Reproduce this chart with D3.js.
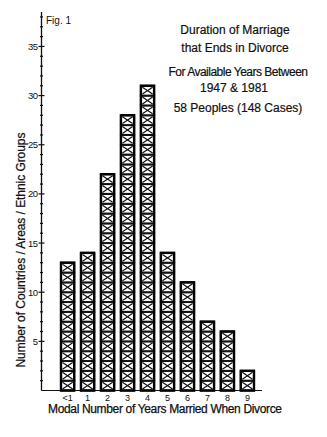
<!DOCTYPE html>
<html>
<head>
<meta charset="utf-8">
<script src="https://cdn.jsdelivr.net/npm/d3@7"></script>
<style>
  body { margin: 0; background: #fff; }
  text { font-family: "Liberation Sans", Arial, sans-serif; fill: #111; }
</style>
</head>
<body>
<div id="chart"></div>
<script>
// Data
const categories = ["<1", "1", "2", "3", "4", "5", "6", "7", "8", "9"];
const counts = [13, 14, 22, 28, 31, 14, 11, 7, 6, 2];
const yTicks = [5, 10, 15, 20, 25, 30, 35];
const titleLines = ["Duration of  Marriage", "that Ends in Divorce"];
const subLines = ["For Available Years Between", "1947 & 1981", "58 Peoples  (148 Cases)"];

const width = 327, height = 437;
const svg = d3.select("#chart").append("svg")
    .attr("width", width)
    .attr("height", height);

const axisX = 41.5, baseY = 390.5;

const x = d3.scaleBand()
    .domain(categories)
    .range([59, 256])
    .paddingInner(0.34)
    .paddingOuter(0.1);

const y = d3.scaleLinear()
    .domain([0, 38.5])
    .range([baseY, baseY - 38.5 * 9.83]);

// Axes lines
svg.append("line")
    .attr("x1", axisX).attr("x2", axisX)
    .attr("y1", y(38.5)).attr("y2", baseY)
    .attr("stroke", "#111").attr("stroke-width", 1.3);
svg.append("line")
    .attr("x1", axisX).attr("x2", 262)
    .attr("y1", baseY).attr("y2", baseY)
    .attr("stroke", "#111").attr("stroke-width", 1.2);

// Minor ticks every unit, major every 5
svg.append("g")
    .selectAll("line")
    .data(d3.range(1, 39))
    .join("line")
    .attr("x1", d => d % 5 === 0 ? axisX - 3 : axisX - 1.5)
    .attr("x2", d => d % 5 === 0 ? axisX + 3 : axisX + 1.5)
    .attr("y1", d => y(d)).attr("y2", d => y(d))
    .attr("stroke", "#111").attr("stroke-width", 1.2);

svg.append("g")
    .selectAll("text")
    .data(yTicks)
    .join("text")
    .attr("x", axisX - 4)
    .attr("y", d => y(d) + 3.5)
    .attr("text-anchor", "end")
    .attr("font-size", 9.5)
    .attr("letter-spacing", -0.5)
    .text(d => d);

// Bars: stacked crossed cells, one per case
const bars = svg.append("g")
    .selectAll("g")
    .data(categories.map((c, i) => ({ cat: c, value: counts[i] })))
    .join("g");

bars.each(function(d) {
    const g = d3.select(this);
    const x0 = x(d.cat), w = x.bandwidth();
    const cells = d3.range(d.value);
    g.selectAll("rect")
        .data(cells)
        .join("rect")
        .attr("x", x0)
        .attr("y", i => y(i + 1))
        .attr("width", w)
        .attr("height", y(0) - y(1))
        .attr("fill", "#fff")
        .attr("stroke", "#111")
        .attr("stroke-width", 2);
    g.selectAll("line.a")
        .data(cells)
        .join("line")
        .attr("class", "a")
        .attr("x1", x0 + 1.5).attr("x2", x0 + w - 1.5)
        .attr("y1", i => y(i + 1) + 1.5).attr("y2", i => y(i) - 1.5)
        .attr("stroke", "#111").attr("stroke-width", 1.2);
    g.selectAll("line.b")
        .data(cells)
        .join("line")
        .attr("class", "b")
        .attr("x1", x0 + w - 1.5).attr("x2", x0 + 1.5)
        .attr("y1", i => y(i + 1) + 1.5).attr("y2", i => y(i) - 1.5)
        .attr("stroke", "#111").attr("stroke-width", 1.2);
    // heavier side edges
    g.append("rect")
        .attr("x", x0).attr("y", y(d.value))
        .attr("width", w).attr("height", baseY - y(d.value))
        .attr("fill", "none")
        .attr("stroke", "#000")
        .attr("stroke-width", 2.4);
});

// Category labels
svg.append("g")
    .selectAll("text")
    .data(categories)
    .join("text")
    .attr("x", d => x(d) + x.bandwidth() / 2)
    .attr("y", 401)
    .attr("text-anchor", "middle")
    .attr("font-size", 9)
    .text(d => d);

// Axis titles
svg.append("text")
    .attr("x", 48)
    .attr("y", 413)
    .attr("font-size", 12)
    .attr("stroke", "#111").attr("stroke-width", 0.25)
    .attr("textLength", 234)
    .text("Modal  Number of Years Married  When Divorce");

svg.append("text")
    .attr("transform", "translate(25,250) rotate(-90)")
    .attr("text-anchor", "middle")
    .attr("font-size", 12)
    .attr("stroke", "#111").attr("stroke-width", 0.25)
    .attr("textLength", 235)
    .text("Number of Countries / Areas / Ethnic Groups");

svg.append("text")
    .attr("x", 46).attr("y", 24)
    .attr("font-size", 10)
    .text("Fig. 1");

// Title block
svg.append("g")
    .selectAll("text")
    .data(titleLines)
    .join("text")
    .attr("x", 235)
    .attr("y", (d, i) => 34 + i * 18)
    .attr("text-anchor", "middle")
    .attr("font-size", 12)
    .attr("stroke", "#111").attr("stroke-width", 0.2)
    .text(d => d);

svg.append("g")
    .selectAll("text")
    .data(subLines)
    .join("text")
    .attr("x", (d, i) => i === 1 ? 234 : 238)
    .attr("y", (d, i) => [76, 92, 112][i])
    .attr("text-anchor", "middle")
    .attr("font-size", 12)
    .attr("stroke", "#111").attr("stroke-width", 0.2)
    .attr("letter-spacing", (d, i) => i === 0 ? -0.5 : 0)
    .text(d => d);
</script>
</body>
</html>
